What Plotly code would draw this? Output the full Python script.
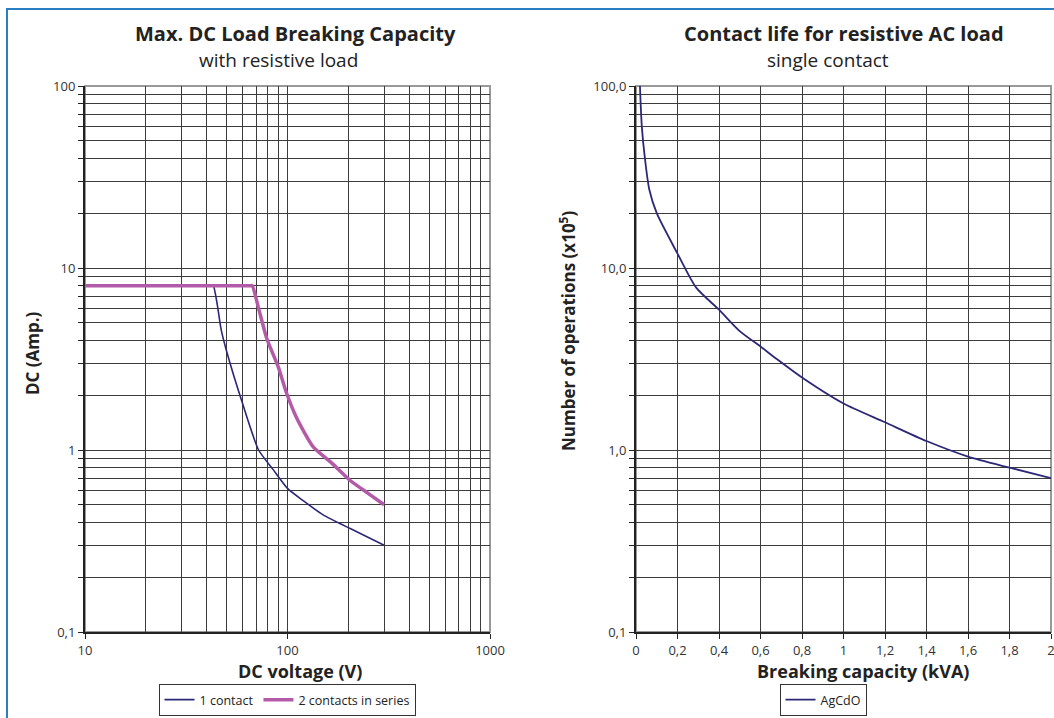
import plotly.graph_objects as go

# ---- data ----
dc_v_one = [10, 42, 43, 45, 47, 50, 60, 72, 85, 100, 120, 150, 204, 300]
dc_a_one = [8, 8, 8, 6.3, 4.6, 3.5, 1.8, 1.0, 0.78, 0.615, 0.525, 0.44, 0.37, 0.30]
dc_v_two = [10, 66, 67, 72, 79, 90, 99, 111, 134, 165, 204, 250, 300]
dc_a_two = [8, 8, 8, 6.0, 4.1, 2.86, 2.05, 1.5, 1.04, 0.85, 0.68, 0.578, 0.5]
ac_kva = [0.019, 0.028, 0.043, 0.064, 0.1, 0.2, 0.29, 0.4, 0.5, 0.6, 0.68, 0.8,
          1.0, 1.2, 1.4, 1.6, 1.8, 2.0]
ac_ops = [100, 60, 40, 27, 20, 12, 7.8, 5.9, 4.5, 3.7, 3.15, 2.5,
          1.8, 1.42, 1.12, 0.92, 0.8, 0.7]

left_y_major = [0.1, 1, 10, 100]
left_y_labels = ["0,1", "1", "10", "100"]
left_x_major = [10, 100, 1000]
left_x_labels = ["10", "100", "1000"]
right_y_major = [0.1, 1, 10, 100]
right_y_labels = ["0,1", "1,0", "10,0", "100,0"]
right_x_vals = [0, 0.2, 0.4, 0.6, 0.8, 1, 1.2, 1.4, 1.6, 1.8, 2]
right_x_labels = ["0", "0,2", "0,4", "0,6", "0,8", "1", "1,2", "1,4", "1,6", "1,8", "2"]


def minor_vals(majors):
    return [m * k for m in majors[:-1] for k in range(2, 10)]


FONT = "Open Sans"
GRID = "#3c3c3c"
NAVY = "#2b2878"
PINK = "#b35aa8"
TXT = "#222"

fig = go.Figure()
fig.add_trace(go.Scatter(x=dc_v_one, y=dc_a_one, mode="lines", name="1 contact",
                         line=dict(color=NAVY, width=1.6, shape="spline", smoothing=0.6),
                         xaxis="x", yaxis="y", legend="legend"))
fig.add_trace(go.Scatter(x=dc_v_two, y=dc_a_two, mode="lines", name="2 contacts in series",
                         line=dict(color=PINK, width=3.5, shape="spline", smoothing=0.6),
                         xaxis="x", yaxis="y", legend="legend"))
fig.add_trace(go.Scatter(x=ac_kva, y=ac_ops, mode="lines", name="AgCdO",
                         line=dict(color=NAVY, width=1.8, shape="spline", smoothing=0.7),
                         xaxis="x2", yaxis="y2", legend="legend2"))

W, H = 1054, 718
ml, mr, mt, mb = 85, 3, 86, 86
pw = W - ml - mr
ph = H - mt - mb
dom_left = [0, (490 - ml) / pw]
dom_right = [(636 - ml) / pw, 1]


def px(x):
    return (x - ml) / pw


def py(y):
    return (mt + ph - y) / ph


axis_common = dict(showgrid=True, gridcolor=GRID, gridwidth=1, zeroline=False,
                   showline=True, linecolor="#222", linewidth=2,
                   ticks="outside", ticklen=5, tickcolor="#222", tickangle=0,
                   automargin=False, ticklabeloverflow="allow",
                   tickfont=dict(family=FONT, size=13, color="#333"))


def minor_cfg(vals, ticks=True):
    return dict(tickmode="array", tickvals=vals, showgrid=True, gridcolor=GRID,
                gridwidth=1, ticks="outside" if ticks else "", ticklen=5, tickcolor="#222")


leg_common = dict(xanchor="center", yanchor="bottom", orientation="h",
                  bordercolor="#333", borderwidth=1, bgcolor="white",
                  font=dict(family=FONT, size=12.5, color=TXT), itemwidth=30)

fig.update_layout(
    width=W, height=H,
    margin=dict(l=ml, r=mr, t=mt, b=mb, autoexpand=False),
    paper_bgcolor="white", plot_bgcolor="white",
    font=dict(family=FONT, color=TXT),
    xaxis=dict(type="log", domain=dom_left, range=[1, 3], anchor="y",
               tickmode="array", tickvals=left_x_major, ticktext=left_x_labels,
               minor=minor_cfg(minor_vals(left_x_major), ticks=False), **axis_common),
    yaxis=dict(type="log", domain=[0, 1], range=[-1, 2], anchor="x",
               tickmode="array", tickvals=left_y_major, ticktext=left_y_labels,
               minor=minor_cfg(minor_vals(left_y_major)), **axis_common),
    xaxis2=dict(type="linear", domain=dom_right, range=[0, 2], anchor="y2",
                tickmode="array", tickvals=right_x_vals, ticktext=right_x_labels, **axis_common),
    yaxis2=dict(type="log", domain=[0, 1], range=[-1, 2], anchor="x2",
                tickmode="array", tickvals=right_y_major, ticktext=right_y_labels,
                minor=minor_cfg(minor_vals(right_y_major)), **axis_common),
    legend=dict(x=px(287), y=py(716), **leg_common),
    legend2=dict(x=px(823), y=py(716), **leg_common),
    showlegend=True,
)


def note(x, y, text, size, angle=0):
    fig.add_annotation(x=px(x), y=py(y), xref="paper", yref="paper", text=text,
                       showarrow=False, xanchor="center", yanchor="middle",
                       textangle=angle, font=dict(family=FONT, size=size, color=TXT))


# chart titles
note(295, 34, "<b>Max. DC Load Breaking Capacity</b>", 20)
note(278, 60, "with resistive load", 19)
note(844, 34, "<b>Contact life for resistive AC load</b>", 20)
note(828, 60, "single contact", 19)
# axis titles
note(300, 671, "<b>DC voltage (V)</b>", 18)
note(863, 671, "<b>Breaking capacity (kVA)</b>", 18)
note(32, 353, "<b>DC (Amp.)</b>", 17, -90)
note(567, 331, "<b>Number of operations (x10<sup>5</sup>)</b>", 17, -90)

# grey frame on the top/right of each plot
for xr, yr in (("x domain", "y domain"), ("x2 domain", "y2 domain")):
    fig.add_shape(type="rect", xref=xr, yref=yr, x0=0, x1=1, y0=0, y1=1,
                  line=dict(color="#999", width=2), layer="below")

# blue outer border (left and top edges visible)
fig.add_shape(type="rect", xref="paper", yref="paper",
              x0=px(7), x1=1.2, y0=-0.3, y1=py(9),
              line=dict(color="#2a7fc4", width=2))

fig.write_html("out.html", config={"displayModeBar": False},
               post_script="document.body.style.margin='0px';")
